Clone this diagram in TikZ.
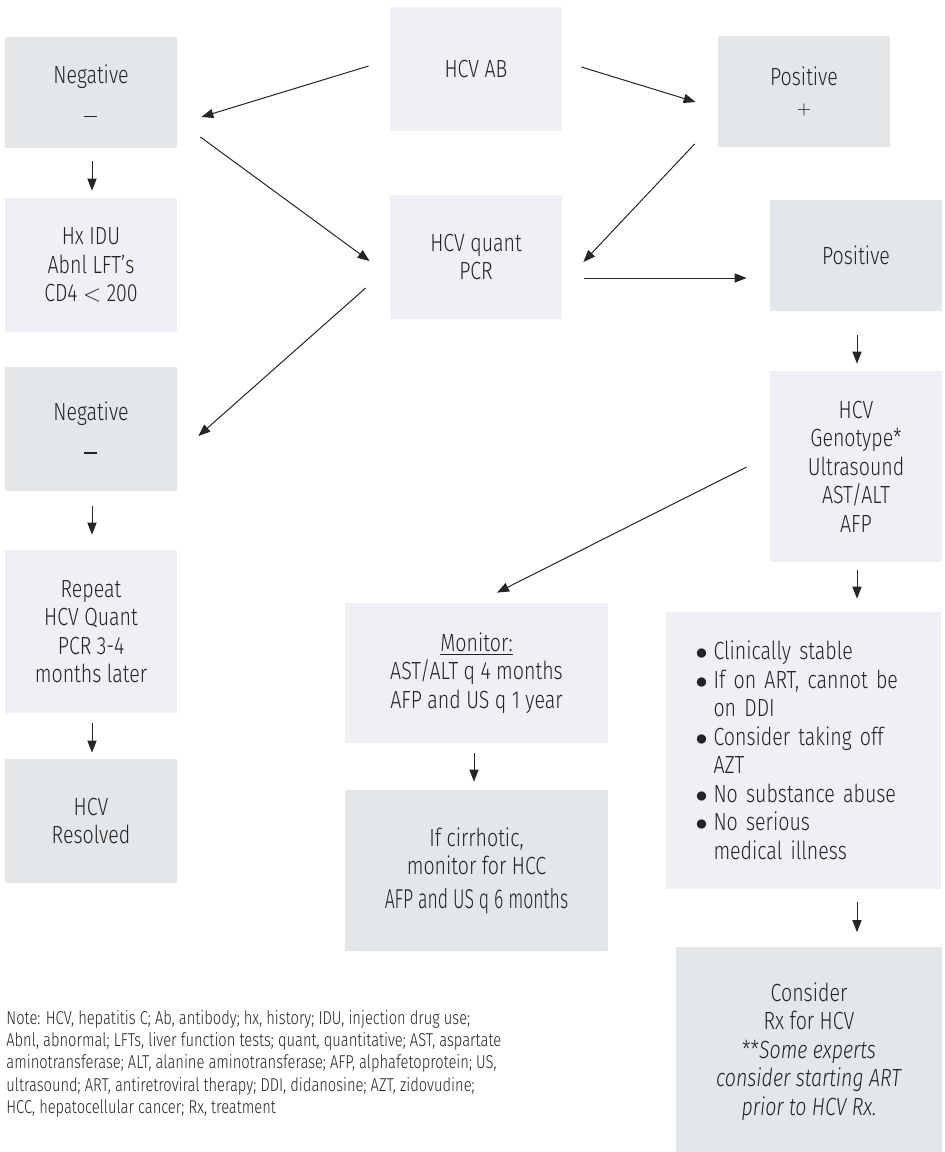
\documentclass[tikz,border=0pt]{standalone}
\usepackage{graphicx}
\usepackage{fontspec}
\setmainfont{Fira Sans}[UprightFont={* Light}, ItalicFont={* Light Italic}, FakeStretch=0.79]
\usetikzlibrary{arrows.meta}
\definecolor{boxgray}{RGB}{228,231,234}
\definecolor{boxlav}{RGB}{239,239,245}
\definecolor{txt}{RGB}{35,35,35}
\newcommand{\bul}{\makebox[9pt][l]{$\bullet$}}
\newcommand{\nobul}{\makebox[9pt][l]{}}
\begin{document}
\begin{tikzpicture}[x=0.5pt,y=-0.5pt,
  every node/.style={text=txt, font=\fontsize{12.4}{14.25}\selectfont},
  gbox/.style={fill=boxgray, draw=none, align=center, inner sep=0pt},
  lbox/.style={fill=boxlav, draw=none, align=center, inner sep=0pt},
  conn/.style={draw=black!85, line width=0.5pt, -{Triangle[length=6pt,width=4.6pt]}}]
\useasboundingbox[fill=white] (0,0) rectangle (945,1152);

\node[gbox, minimum width=86pt, minimum height=55.5pt] (neg1) at (91,92.5) {Negative\\[4pt]\rule[1.5pt]{6.5pt}{0.55pt}};
\node[lbox, minimum width=86pt, minimum height=62pt] (hcvab) at (476,69) {HCV AB};
\node[gbox, minimum width=86pt, minimum height=55.5pt] (pos1) at (804,91.5) {Positive\\{\fontsize{9.5}{10}\selectfont$+$}};
\node[lbox, minimum width=86pt, minimum height=67pt] (hxidu) at (91,265) {Hx IDU\\Abnl LFT’s\\CD4 $<$ 200};
\node[lbox, minimum width=86pt, minimum height=62pt] (pcr) at (476,257) {HCV quant\\PCR};
\node[gbox, minimum width=86pt, minimum height=55.5pt] (pos2) at (856,255.5) {Positive};
\node[gbox, minimum width=86pt, minimum height=62pt] (neg2) at (91,429) {Negative\\[4pt]\rule[1.5pt]{6.5pt}{0.55pt}};
\node[lbox, minimum width=86pt, minimum height=81.5pt] (rep) at (91,631.5) {Repeat\\HCV Quant\\PCR 3-4\\months later};
\node[gbox, minimum width=86pt, minimum height=62pt] (resolved) at (91,821) {HCV\\Resolved};
\node[lbox, minimum width=86pt, minimum height=95.5pt] (geno) at (856,466.5) {HCV\\Genotype*\\Ultrasound\\AST/ALT\\AFP};
\node[lbox, minimum width=131.5pt, minimum height=70pt] (monitor) at (476.5,673) {\underline{Monitor:}\\AST/ALT q 4 months\\AFP and US q 1 year};
\node[gbox, minimum width=131.5pt, minimum height=80.5pt] (cirr) at (476.5,870.5) {If cirrhotic,\\monitor for HCC\\[2.5pt]\scalebox{0.9}[1.1]{AFP and US q 6 months}};
\node[lbox, minimum width=137.5pt, minimum height=138.5pt, align=left, text width=108pt] (bullets) at (803.5,750.5)
  {\bul Clinically stable\\
   \bul If on ART, cannot be\\
   \nobul on DDI\\
   \bul Consider taking off\\
   \nobul AZT\\
   \bul No substance abuse\\
   \bul No serious\\
   \nobul medical illness};
\node[gbox, minimum width=133pt, minimum height=105pt] (consider) at (809,1051.5)
  {Consider\\Rx for HCV\\**\textit{Some experts}\\\textit{consider starting ART}\\\textit{prior to HCV Rx.}};

\node[anchor=north west, align=left, inner sep=0pt, font=\fontsize{9.3}{11.1}\selectfont] (note) at (6,1010)
  {Note: HCV, hepatitis C; Ab, antibody; hx, history; IDU, injection drug use;\\
   Abnl, abnormal; LFTs, liver function tests; quant, quantitative; AST, aspartate\\
   aminotransferase; ALT, alanine aminotransferase; AFP, alphafetoprotein; US,\\
   ultrasound; ART, antiretroviral therapy; DDI, didanosine; AZT, zidovudine;\\
   HCC, hepatocellular cancer; Rx, treatment};

\draw[conn] ([shift={(-21,-3)}]hcvab.west) -- ([shift={(24,24.5)}]neg1.east);
\draw[conn] ([shift={(23,44.5)}]neg1.east) -- ([shift={(-20,4)}]pcr.west);
\draw[conn] ([shift={(19,-2)}]hcvab.east) -- ([shift={(-22,10.5)}]pos1.west);
\draw[conn] ([shift={(-23,52.5)}]pos1.west) -- ([shift={(21,5)}]pcr.east);
\draw[conn] ([shift={(-24,31)}]pcr.west) -- ([shift={(21,7)}]neg2.east);
\draw[conn] ([shift={(22,21)}]pcr.east) -- ([shift={(-23,22.5)}]pos2.west);
\draw[conn] ([shift={(1,13)}]neg1.south) -- ([shift={(1,-7)}]hxidu.north);
\draw[conn] ([shift={(1,15)}]neg2.south) -- ([shift={(1,-15)}]rep.north);
\draw[conn] ([shift={(1,10)}]rep.south) -- ([shift={(1,-6)}]resolved.north);
\draw[conn] ([shift={(1,24)}]pos2.south) -- ([shift={(1,-7)}]geno.north);
\draw[conn] ([shift={(1,8)}]geno.south) -- ([shift={(53.5,-13)}]bullets.north);
\draw[conn] ([shift={(-23,0.5)}]geno.west) -- ([shift={(20.5,-10)}]monitor.north);
\draw[conn] ([shift={(-2.5,10)}]monitor.south) -- ([shift={(-2.5,-8)}]cirr.north);
\draw[conn] ([shift={(53.5,13)}]bullets.south) -- ([shift={(48,-14)}]consider.north);
\end{tikzpicture}
\end{document}
